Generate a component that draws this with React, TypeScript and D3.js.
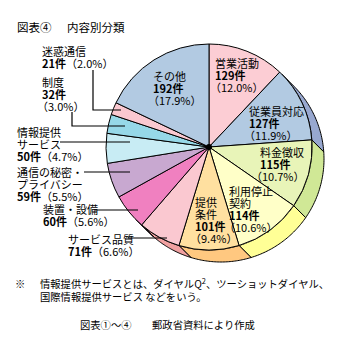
import React from "react";
import * as d3 from "d3";

const categories = ["営業活動","従業員対応","料金徴収","利用停止契約","提供条件","サービス品質","装置・設備","通信の秘密・プライバシー","情報提供サービス","制度","迷惑通信","その他"];
const counts = [129,127,115,114,101,71,60,59,50,32,21,192];
const percents = [12.0,11.9,10.7,10.6,9.4,6.6,5.6,5.5,4.7,3.0,2.0,17.9];

const topColors = ["#fccdd4","#b2cae2","#e8f4b8","#ffffc8","#ffe0a0","#fac8d0","#f080c0","#c8a8d0","#c8ecf4","#96d8e8","#fac8d0","#b2cae2"];
const sideColors = ["#f0a8b4","#98a8d0","#d0e896","#ffff96","#ffc880","#f0a0a0","#d060a0","#a888b8","#a8d0e0","#78c0d0","#f0a8b4","#98a8d0"];

// label layout (annotation positions)
type Lab = { x: number; y: number; lines: string[]; style: "stack" | "inline"; pctDx: number; leader?: [number, number][] };
const labels: Lab[] = [
  { x: 215, y: 68, lines: ["営業活動"], style: "stack", pctDx: -5 },
  { x: 249, y: 116, lines: ["従業員対応"], style: "stack", pctDx: -5 },
  { x: 260, y: 157, lines: ["料金徴収"], style: "stack", pctDx: -9 },
  { x: 229, y: 196, lines: ["利用停止", "契約"], style: "stack", pctDx: -5 },
  { x: 195, y: 207, lines: ["提供", "条件"], style: "stack", pctDx: -5 },
  { x: 68, y: 244, lines: ["サービス品質"], style: "inline", pctDx: 0, leader: [[128, 238], [167, 238]] },
  { x: 43, y: 214, lines: ["装置・設備"], style: "inline", pctDx: 0, leader: [[95, 210], [138, 210]] },
  { x: 17, y: 177, lines: ["通信の秘密・", "プライバシー"], style: "inline", pctDx: 0, leader: [[84, 172], [130, 172]] },
  { x: 17, y: 137, lines: ["情報提供", "サービス"], style: "inline", pctDx: 0, leader: [[60, 142], [130, 142]] },
  { x: 42, y: 87, lines: ["制度"], style: "stack", pctDx: -5, leader: [[72, 112], [72, 126], [125, 126]] },
  { x: 42, y: 56, lines: ["迷惑通信"], style: "inline", pctDx: 0, leader: [[93, 70], [93, 110], [121, 110]] },
  { x: 153, y: 81, lines: ["その他"], style: "stack", pctDx: -5 },
];

const W = 346, H = 350;
const cx = 209, cy = 147, R = 103;
const DX = 12, DY = 12;
const FONT = "'Noto Sans CJK JP', 'Noto Sans', sans-serif";

export default function App() {
  const pie = d3.pie<number>().sort(null).value((d) => d).startAngle(0).endAngle(2 * Math.PI);
  const arcs = pie(counts);
  const arcGen = d3.arc<d3.PieArcDatum<number>>().innerRadius(0).outerRadius(R);
  const P = (a: number, ox = 0, oy = 0): [number, number] => [cx + R * Math.sin(a) + ox, cy - R * Math.cos(a) + oy];

  const lo = Math.PI / 4, hi = (5 * Math.PI) / 4;
  const sides = arcs.map((a, i) => {
    const a0 = Math.max(a.startAngle, lo), a1 = Math.min(a.endAngle, hi);
    if (a1 <= a0) return null;
    const n = 40;
    const pts: [number, number][] = [];
    for (let k = 0; k <= n; k++) pts.push(P(a0 + ((a1 - a0) * k) / n));
    for (let k = n; k >= 0; k--) pts.push(P(a0 + ((a1 - a0) * k) / n, DX, DY));
    return <path key={"s" + i} d={d3.line()(pts)! + "Z"} fill={sideColors[i]} stroke="#000" strokeWidth={1} />;
  });

  const texts: React.ReactNode[] = [];
  labels.forEach((l, i) => {
    const cnt = `${counts[i]}件`;
    const pct = `（${percents[i].toFixed(1)}%）`;
    let y = l.y;
    const step = 12;
    l.lines.forEach((s, j) => {
      texts.push(<text key={`n${i}-${j}`} x={l.x} y={y}>{s}</text>);
      y += step;
    });
    if (l.style === "stack") {
      texts.push(<text key={`c${i}`} x={l.x} y={y} fontWeight="bold">{cnt}</text>);
      y += step;
      texts.push(<text key={`p${i}`} x={l.x + l.pctDx} y={y}>{pct}</text>);
    } else {
      texts.push(<text key={`c${i}`} x={l.x} y={y} fontWeight="bold">{cnt}<tspan fontWeight="normal">{pct}</tspan></text>);
    }
    if (l.leader) {
      texts.push(<path key={`l${i}`} d={d3.line()(l.leader)!} fill="none" stroke="#000" strokeWidth={1.2} />);
    }
  });

  return (
    <svg width={W} height={H} style={{ position: "absolute", left: 0, top: 0 }} fontFamily={FONT} fontSize={11}>
      <rect width={W} height={H} fill="#fff" />
      <text x={17} y={32} fontSize={11.5}>図表④</text>
      <text x={67} y={32} fontSize={11.5}>内容別分類</text>
      {sides}
      {arcs.map((a, i) => (
        <path key={"t" + i} d={arcGen(a)!} transform={`translate(${cx},${cy})`} fill={topColors[i]} stroke="#000" strokeWidth={1} />
      ))}
      <circle cx={cx} cy={cy} r={3} fill="#000" />
      {texts}
      <g fontSize={10.3}>
        <text x={15} y={288}>※</text>
        <text x={40} y={288}>情報提供サービスとは、ダイヤルQ<tspan dy={-4} fontSize={7.5}>2</tspan><tspan dy={4}>、ツーショットダイヤル、</tspan></text>
        <text x={40} y={301}>国際情報提供サービス などをいう。</text>
        <text x={80} y={329}>図表①～④　　郵政省資料により作成</text>
      </g>
    </svg>
  );
}
